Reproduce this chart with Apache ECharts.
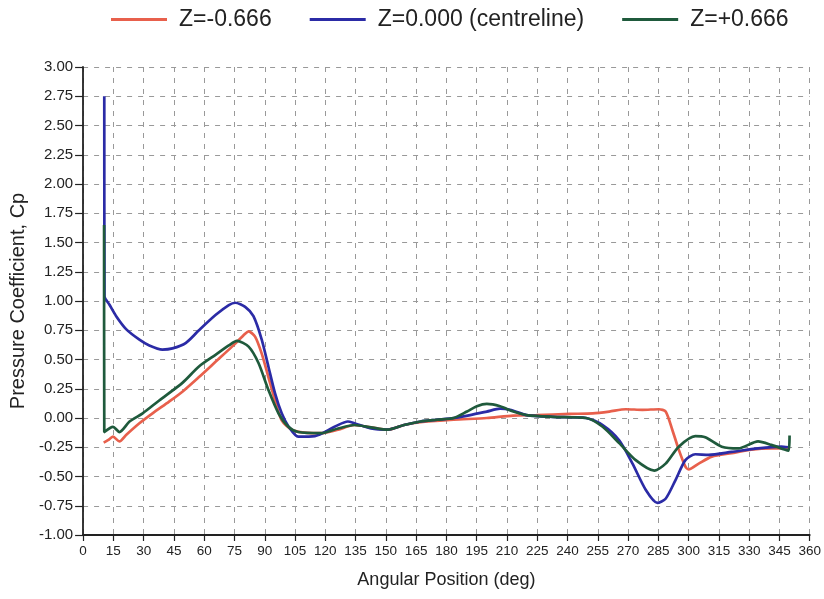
<!DOCTYPE html>
<html>
<head>
<meta charset="utf-8">
<script src="https://cdn.jsdelivr.net/npm/echarts@6/dist/echarts.min.js"></script>
<style>html,body{margin:0;padding:0;background:#fff}#c{width:824px;height:599px}</style>
</head>
<body>
<div id="c"></div>
<script>
var seriesNames = ['Z=-0.666', 'Z=0.000 (centreline)', 'Z=+0.666'];
var xTicks = [0, 360, 15];
var yTicks = [-1, 3, 0.25];

var zMinus = [[10.2,-0.21],[12.3,-0.19],[14.8,-0.16],[18,-0.2],[21.3,-0.145],[27.9,-0.045],[34.4,0.04],[42.6,0.14],[49.2,0.225],[57.4,0.35],[65.6,0.48],[73.8,0.61],[80.3,0.72],[82,0.74],[85.2,0.695],[88.5,0.55],[91.8,0.35],[95.1,0.15],[98.4,-0.02],[103.3,-0.1],[109.8,-0.125],[118,-0.13],[126.3,-0.10],[134.4,-0.06],[142.6,-0.08],[150.9,-0.10],[159,-0.06],[167.2,-0.035],[183.6,-0.015],[200,0],[213,0.02],[224.6,0.025],[241,0.035],[252.5,0.04],[260.7,0.055],[268.9,0.075],[277.1,0.07],[285.3,0.075],[288.6,0.055],[291.9,-0.10],[295.1,-0.27],[298.4,-0.415],[300,-0.44],[305,-0.39],[311.5,-0.33],[321.3,-0.30],[331.2,-0.27],[341,-0.26],[349.2,-0.26]];

var zCentre = [[10.5,2.75],[10.6,1.04],[13,0.97],[16.4,0.87],[21.3,0.76],[27.9,0.67],[32.8,0.62],[39.3,0.585],[44.3,0.595],[50.8,0.64],[57.4,0.75],[65.6,0.88],[72.2,0.965],[75.4,0.985],[80.3,0.95],[84.4,0.87],[88.5,0.67],[91.8,0.44],[95.1,0.21],[98.4,0.04],[101.7,-0.07],[106.6,-0.16],[114.8,-0.155],[124.6,-0.075],[131.2,-0.03],[134.4,-0.045],[142.6,-0.09],[150.9,-0.10],[159,-0.06],[167.2,-0.03],[175.4,-0.015],[183.6,0],[191.8,0.025],[200,0.055],[206.6,0.08],[211.5,0.07],[219.7,0.025],[232.8,0.01],[249.2,0],[257.4,-0.06],[265.6,-0.19],[272.2,-0.39],[278.8,-0.615],[284.5,-0.725],[288.6,-0.69],[293.5,-0.53],[298.4,-0.36],[303.3,-0.31],[309.9,-0.315],[321.3,-0.29],[334.4,-0.26],[345.9,-0.245],[349.2,-0.25]];

var zPlus = [[10.4,1.65],[10.5,-0.12],[14.8,-0.075],[18,-0.12],[23,-0.03],[29.5,0.04],[37.7,0.15],[49.2,0.3],[57.4,0.44],[65.6,0.54],[72.2,0.62],[76.2,0.66],[82,0.61],[86.9,0.47],[91.8,0.24],[96.8,0.04],[101.7,-0.075],[106.6,-0.12],[118,-0.13],[126.3,-0.09],[134.4,-0.06],[142.6,-0.08],[150.9,-0.10],[159,-0.06],[167.2,-0.03],[175.4,-0.015],[183.6,0],[190.2,0.055],[195.1,0.1],[200,0.12],[206.6,0.1],[213.1,0.055],[219.7,0.025],[232.8,0.01],[249.2,0],[257.4,-0.075],[265.6,-0.215],[273.8,-0.36],[283,-0.45],[288.6,-0.39],[295.1,-0.245],[303.3,-0.155],[308.2,-0.165],[316.4,-0.245],[324.6,-0.26],[334.4,-0.20],[341,-0.23],[347.5,-0.27],[349.5,-0.28],[350,-0.15]];

var colors = ['#e8604c', '#2b2ba6', '#1f5a3c'];
var FONT = 'Liberation Sans, Arial, sans-serif';

var chart = echarts.init(document.getElementById('c'), null, {renderer: 'canvas'});
function mk(name, data, color) {
  return {
    name: name, type: 'line', data: data, showSymbol: false, symbol: 'none',
    smooth: 0.25, lineStyle: {color: color, width: 2.7}, itemStyle: {color: color}
  };
}
chart.setOption({
  backgroundColor: '#fff',
  animation: false,
  legend: {
    top: 3, left: 106, itemWidth: 56, itemHeight: 3, itemGap: 38, icon: 'rect',
    textStyle: {fontFamily: FONT, fontSize: 23, color: '#222', padding: [0,0,0,7]},
    data: seriesNames
  },
  grid: {left: 80, right: 12, top: 67, bottom: 64},
  xAxis: {
    type: 'value', min: xTicks[0], max: xTicks[1], interval: xTicks[2],
    name: 'Angular Position (deg)', nameLocation: 'middle', nameGap: 36,
    nameTextStyle: {fontFamily: FONT, fontSize: 18, color: '#222'},
    axisLine: {onZero: false, lineStyle: {color: '#222', width: 1.8}},
    axisTick: {length: 6, lineStyle: {color: '#222', width: 1.2}},
    axisLabel: {fontFamily: FONT, fontSize: 13.5, color: '#222', margin: 9},
    splitLine: {show: true, lineStyle: {color: '#999', type: [5, 6], width: 1}}
  },
  yAxis: {
    type: 'value', min: yTicks[0], max: yTicks[1], interval: yTicks[2],
    name: 'Pressure Coefficient, Cp', nameLocation: 'middle', nameGap: 50,
    nameTextStyle: {fontFamily: FONT, fontSize: 20, color: '#222'},
    axisLine: {show: true, onZero: false, lineStyle: {color: '#222', width: 1.8}},
    axisTick: {show: true, length: 8, lineStyle: {color: '#222', width: 1.2}},
    axisLabel: {fontFamily: FONT, fontSize: 15, color: '#222', margin: 10,
      formatter: function (v) { return v.toFixed(2); }},
    splitLine: {show: true, lineStyle: {color: '#999', type: [5, 6], width: 1}}
  },
  series: [
    mk(seriesNames[0], zMinus, colors[0]),
    mk(seriesNames[1], zCentre, colors[1]),
    mk(seriesNames[2], zPlus, colors[2])
  ]
});
</script>
</body>
</html>
